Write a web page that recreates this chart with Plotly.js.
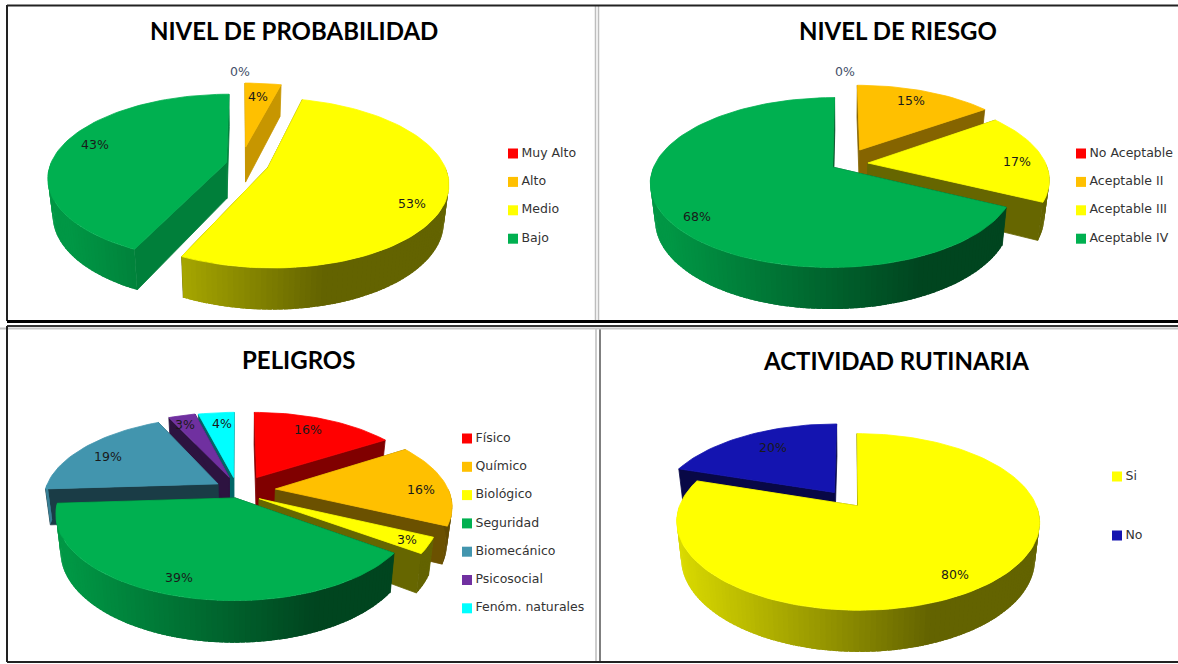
<!DOCTYPE html>
<html>
<head>
<meta charset="utf-8">
<script src="https://cdn.plot.ly/plotly-3.0.1.min.js"></script>
<style>html,body{margin:0;padding:0;background:#fff}#c{width:1178px;height:664px}</style>
</head>
<body>
<div id="c"></div>
<script>
// ---------- data ----------
var probTitle = "NIVEL DE PROBABILIDAD";
var probLabels = ["Muy Alto", "Alto", "Medio", "Bajo"];
var probValues = [0, 4, 53, 43];

var riesgoTitle = "NIVEL DE RIESGO";
var riesgoLabels = ["No Aceptable", "Aceptable II", "Aceptable III", "Aceptable IV"];
var riesgoValues = [0, 15, 17.4, 67.6];

var peligrosTitle = "PELIGROS";
var peligrosLabels = ["Físico", "Químico", "Biológico", "Seguridad", "Biomecánico", "Psicosocial", "Fenóm. naturales"];
var peligrosValues = [16, 16, 3, 39, 19, 3, 4];

var rutinaTitle = "ACTIVIDAD RUTINARIA";
var rutinaLabels = ["Si", "No"];
var rutinaValues = [80, 20];

// ---------- styles ----------
var RED = "#FF0000", ORG = "#FFC000", YEL = "#FFFF00", GRN = "#00B050",
    TEAL = "#4295AE", PUR = "#7030A0", CYA = "#00FFFF", NAVY = "#1414B0";

var charts = [
  { title: probTitle, labels: probLabels, values: probValues, colors: [RED, ORG, YEL, GRN],
    cx: 245, cy: 164, rx: 176, ry: 81, k: 0.18, h: 36,
    pull: [0, 0.22, 0.125, 0.09], order: [0, 1, 3, 2], wall: [0.5, 0.78, 0.4, 0.72],
    nudge: { 1: [-4, 0], 2: [2, 0], 3: [-3, 0] },
    titleAt: [294, 30.5],
    labelAt: [[240, 71], [258, 96], [412, 203], [95, 144]],
    legend: { x: 513, y: 153.5, dy: 28.4 } },
  { title: riesgoTitle, labels: riesgoLabels, values: riesgoValues, colors: [RED, ORG, YEL, GRN],
    cx: 844, cy: 164, rx: 178, ry: 81, k: 0.18, h: 36,
    pull: [0, 0.2, 0.152, 0.073], order: [0, 1, 2, 3], wall: [0.5, 0.52, 0.4, 0.4],
    nudge: { 2: [-3, 0] },
    titleAt: [898, 30.5],
    labelAt: [[845, 71], [911, 100], [1017, 161], [697, 216]],
    legend: { x: 1081, y: 153.5, dy: 28.4 } },
  { title: peligrosTitle, labels: peligrosLabels, values: peligrosValues, colors: [RED, ORG, YEL, GRN, TEAL, PUR, CYA],
    cx: 240, cy: 490, rx: 173, ry: 81, k: 0.18, h: 36,
    pull: [0.18, 0.2, 0.16, 0.1, 0.15, 0.17, 0.16], order: [0, 6, 5, 4, 1, 2, 3],
    wall: [0.5, 0.42, 0.4, 0.4, 0.4, 0.4, 0.4],
    nudge: { 0: [2, 0], 1: [1, 0], 2: [-5, 2], 5: [-1, 0], 6: [-3, 0] },
    titleAt: [298, 359],
    labelAt: [[308, 429], [421, 489], [407, 539], [179, 577], [108, 456], [185, 424], [222, 423]],
    legend: { x: 467, y: 438.5, dy: 28.3 } },
  { title: rutinaTitle, labels: rutinaLabels, values: rutinaValues, colors: [YEL, NAVY],
    cx: 852, cy: 502, rx: 177, ry: 84, k: 0.18, h: 36,
    pull: [0.057, 0.143], order: [1, 0], wall: [0.4, 0.4],
    nudge: { 1: [-3, 0] },
    titleAt: [896, 360],
    labelAt: [[955, 574], [773, 447]],
    legend: { x: 1117, y: 476.5, dy: 59 } }
];

// frame rules of the sheet: x0, y0, x1, y1, colour, width
var rules = [
  [595.5, 6, 595.5, 320, "#bdbdbd", 1.5],
  [598.5, 6, 598.5, 320, "#bdbdbd", 1.5],
  [596, 329, 596, 662, "#bdbdbd", 1.5],
  [600, 329, 600, 662, "#555555", 1.5],
  [0, 328.5, 1178, 328.5, "#c4c4c4", 2],
  [7, 5.5, 1178, 5.5, "#222222", 2],
  [7, 5, 7, 321, "#222222", 2],
  [7, 321.5, 1178, 321.5, "#000000", 3],
  [7, 326, 1178, 326, "#333333", 2],
  [7, 326, 7, 662, "#222222", 2],
  [7, 662, 1178, 662, "#222222", 2]
];

// ---------- helpers ----------
function rgb(hex) { return [1, 3, 5].map(function (i) { return parseInt(hex.substr(i, 2), 16); }); }
function shade(hex, f) {
  var c = rgb(hex);
  return "rgb(" + c.map(function (v) { return Math.round(v * f); }).join(",") + ")";
}
var SHRINK = 0.975;      // the lower plane of the pie sits slightly further away
function project(ch, u, v, lower) {
  var w = 1 + ch.k * v, s = lower ? SHRINK : 1;
  return [ch.cx + s * ch.rx * u / w, ch.cy + (lower ? ch.h / w : 0) - s * ch.ry * v / w];
}
function rad(d) { return d * Math.PI / 180; }

function poly(xs, ys, fill, lw) {
  return { type: "scatter", mode: "lines", x: xs.concat([xs[0]]), y: ys.concat([ys[0]]),
    fill: "toself", fillcolor: fill, line: { width: lw, color: fill },
    hoverinfo: "skip", showlegend: false };
}

var traces = [], annotations = [], shapes = [];

charts.forEach(function (ch) {
  var total = ch.values.reduce(function (a, b) { return a + b; }, 0);
  var start = [], acc = 0;
  ch.values.forEach(function (v) { start.push(acc / total * 360); acc += v; });

  ch.order.forEach(function (i) {
    var val = ch.values[i];
    if (val <= 0) return;
    var t0 = start[i], t1 = t0 + val / total * 360, mid = (t0 + t1) / 2;
    var pu = ch.pull[i] * Math.sin(rad(mid)), pv = ch.pull[i] * Math.cos(rad(mid));
    var col = ch.colors[i], nd = ch.nudge[i] || [0, 0];
    var pr = function (u, v, lower) { var p = project(ch, u, v, lower); return [p[0] + nd[0], p[1] + nd[1]]; };
    var at = function (t, lower) { return pr(pu + Math.sin(rad(t)), pv + Math.cos(rad(t)), lower); };
    var apexT = pr(pu, pv, false), apexB = pr(pu, pv, true);

    // radial walls
    [t0, t1].forEach(function (t) {
      var a = at(t, false), b = at(t, true);
      traces.push(poly([apexT[0], a[0], b[0], apexB[0]], [apexT[1], a[1], b[1], apexB[1]], shade(col, ch.wall[i]), 0.8));
    });

    // curved outer wall: overlapping thin strips shaded from left to right
    var STEP = 1.5;
    var tA = Math.max(t0, 90), tB = Math.min(t1, 270);
    for (var t = tA; t < tB; t += STEP) {
      var e = Math.min(t + STEP * 1.8, tB), c = Math.min(t + STEP / 2, tB);
      var p1 = at(t, false), p2 = at(e, false), p3 = at(e, true), p4 = at(t, true), pc = at(c, false);
      var frac = (pc[0] - (ch.cx - ch.rx)) / (2 * ch.rx);
      var f = 0.86 - 0.47 * Math.min(Math.max(frac, 0) / 0.72, 1);
      traces.push(poly([p1[0], p2[0], p3[0], p4[0]], [p1[1], p2[1], p3[1], p4[1]], shade(col, f), 0));
    }

    // top face
    var xs = [apexT[0]], ys = [apexT[1]];
    for (var a = t0; a < t1; a += 2) { var p = at(a, false); xs.push(p[0]); ys.push(p[1]); }
    var pe = at(t1, false); xs.push(pe[0]); ys.push(pe[1]);
    traces.push(poly(xs, ys, col, 0.8));
  });

  // percentage labels
  ch.values.forEach(function (v, i) {
    annotations.push({ xref: "x", yref: "y", x: ch.labelAt[i][0], y: ch.labelAt[i][1],
      text: Math.round(v / total * 100) + "%", showarrow: false,
      font: { family: "DejaVu Sans, sans-serif", size: 12.5, color: v === 0 ? "#44506a" : "#1a1a1a" } });
  });

  // title
  annotations.push({ xref: "x", yref: "y", x: ch.titleAt[0], y: ch.titleAt[1], text: "<b>" + ch.title + "</b>",
    showarrow: false, font: { family: "Lato, sans-serif", size: 24, color: "#000" } });

  // legend
  traces.push({ type: "scatter", mode: "markers+text",
    x: ch.labels.map(function () { return ch.legend.x; }),
    y: ch.labels.map(function (l, i) { return ch.legend.y + i * ch.legend.dy; }),
    marker: { symbol: "square", size: 10, color: ch.colors },
    text: ch.labels.map(function (l) { return "\u200A" + l; }), textposition: "middle right",
    textfont: { family: "DejaVu Sans, sans-serif", size: 12.5, color: "#333" },
    hoverinfo: "skip", showlegend: false });
});

rules.forEach(function (r) {
  shapes.push({ type: "line", xref: "x", yref: "y", x0: r[0], y0: r[1], x1: r[2], y1: r[3],
    line: { color: r[4], width: r[5] }, layer: "below" });
});

var layout = {
  width: 1178, height: 664, margin: { l: 0, r: 0, t: 0, b: 0 },
  paper_bgcolor: "#fff", plot_bgcolor: "#fff", showlegend: false,
  xaxis: { range: [0, 1178], visible: false, fixedrange: true },
  yaxis: { range: [664, 0], visible: false, fixedrange: true },
  annotations: annotations, shapes: shapes
};
Plotly.newPlot("c", traces, layout, { staticPlot: true, displayModeBar: false });
</script>
</body>
</html>
